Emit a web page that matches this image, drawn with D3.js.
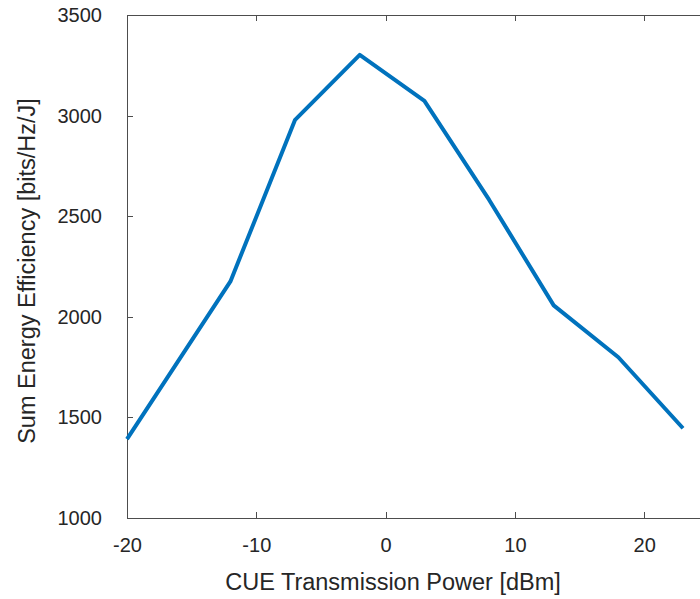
<!DOCTYPE html>
<head>
<meta charset="utf-8">
<style>
body { margin: 0; background: #fff; }
svg { display: block; }
.axis text { font: 20px "Liberation Sans", Arial, sans-serif; fill: #262626; }
.axis path, .axis line { stroke: #4d4d4d; shape-rendering: crispEdges; }
.label { font: 23.5px "Liberation Sans", Arial, sans-serif; fill: #262626; }
</style>
<script src="https://cdn.jsdelivr.net/npm/d3@7"></script>
</head>
<body>
<div id="chart"></div>
<script>

// data
var power = [-20, -12, -7, -2, 3, 8, 13, 18, 23];
var efficiency = [1392, 2176, 2979, 3302, 3073, 2582, 2057, 1799, 1446];
var xTicks = [-20, -10, 0, 10, 20];
var yTicks = [1000, 1500, 2000, 2500, 3000, 3500];

var width = 700, height = 599;
var margin = {top: 15, left: 127, bottom: 81};

var x = d3.scaleLinear().domain([-20, 25]).range([margin.left, margin.left + 45 * 12.93]);
var y = d3.scaleLinear().domain([1000, 3500]).range([height - margin.bottom, margin.top]);

var fmt = function(d) { return String(d); };

var svg = d3.select("#chart").append("svg")
    .attr("width", width)
    .attr("height", height);

svg.append("g")
    .attr("class", "axis")
    .attr("transform", "translate(0," + y(1000) + ")")
    .call(d3.axisBottom(x).tickValues(xTicks).tickFormat(fmt).tickSizeInner(-6).tickSizeOuter(0).tickPadding(16))
    .call(function(g) { g.selectAll("text").attr("dy", "0.9em"); });

svg.append("g")
    .attr("class", "axis")
    .attr("transform", "translate(0," + y(3500) + ")")
    .call(d3.axisTop(x).tickValues(xTicks).tickSizeInner(-6).tickSizeOuter(0).tickFormat(""));

svg.append("g")
    .attr("class", "axis")
    .attr("transform", "translate(" + x(-20) + ",0)")
    .call(d3.axisLeft(y).tickValues(yTicks).tickFormat(fmt).tickSizeInner(-6).tickSizeOuter(0).tickPadding(25));

var line = d3.line()
    .x(function(d, i) { return x(power[i]); })
    .y(function(d) { return y(d); });

svg.append("path")
    .datum(efficiency)
    .attr("fill", "none")
    .attr("stroke", "#0072BD")
    .attr("stroke-width", 4)
    .attr("stroke-linejoin", "round")
    .attr("d", line);

svg.append("text")
    .attr("class", "label")
    .attr("x", 393)
    .attr("y", 590)
    .attr("text-anchor", "middle")
    .text("CUE Transmission Power [dBm]");

svg.append("text")
    .attr("class", "label")
    .attr("transform", "translate(35,271) rotate(-90)")
    .attr("text-anchor", "middle")
    .text("Sum Energy Efficiency [bits/Hz/J]");

</script>
</body>
